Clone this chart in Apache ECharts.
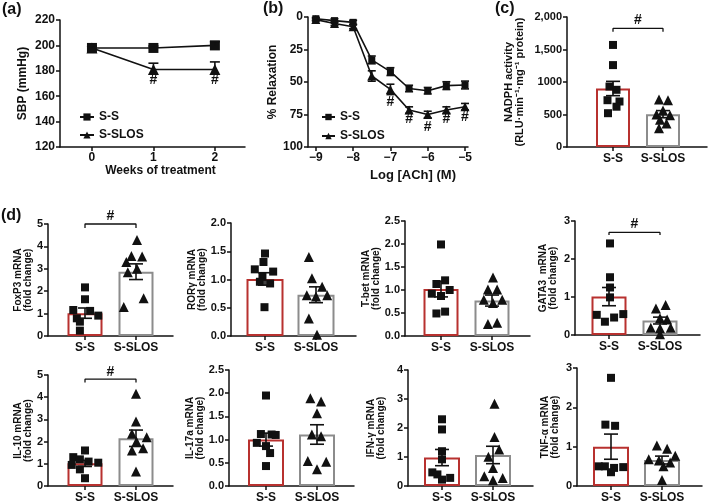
<!DOCTYPE html>
<html><head><meta charset="utf-8">
<script src="https://cdn.jsdelivr.net/npm/echarts@6/dist/echarts.min.js"></script>
<style>html,body{margin:0;padding:0;background:#fff}#c{width:709px;height:504px}</style>
</head><body><div id="c"></div><script>
// ---------- data ----------
const groups = ['S-S', 'S-SLOS'];
// (a) SBP
const weeks = [0, 1, 2];
const sbpSS = [198, 198, 200];
const sbpSSErr = [1.5, 1.5, 3];
const sbpSLOS = [198, 181, 181];
const sbpSLOSErr = [1.5, 5, 6];
const sbpHash = [[1, 173], [2, 173]];
// (b) relaxation
const logACh = [-9, -8.5, -8, -7.5, -7, -6.5, -6, -5.5, -5];
const logAChTicks = [-9, -8, -7, -6, -5];
const relaxSS = [1.3, 2.8, 4.1, 33, 42, 55, 56.7, 52.8, 52.3];
const relaxSSErr = [1, 1.5, 1.5, 3, 3, 2.5, 2.5, 3, 3];
const relaxSLOS = [2, 5, 7.5, 45.4, 55.7, 71.6, 75, 71.6, 69];
const relaxSLOSErr = [1, 1.5, 1.5, 4, 4, 2.5, 2.5, 2.5, 2.5];
const relaxHash = [[-7, 65.2], [-6.5, 78.6], [-6, 84.5], [-5.5, 78.6], [-5, 76.8]];
// (c) NADPH
const nadphTickLabels = ['0', '500', '1000', '1,500', '2,000'];
const nadphSS = [1570, 1260, 930, 880, 720, 700, 620, 520];
const nadphSSx = [0, 0, -0.07, 0.07, -0.11, 0.13, 0.07, -0.1];
const nadphSL = [730, 720, 560, 500, 490, 420, 360, 290];
const nadphSLx = [-0.08, 0.1, 0, -0.13, 0.14, -0.06, 0.07, -0.08];
const nadphMean = [900, 505];
const nadphSem = [110, 55];
const nadphSig = [1774, 1825, 1953];
// (d) mRNA
const foxp3SS = [2.17, 1.64, 1.16, 1.12, 0.91, 0.79, 0.64, 0.24];
const foxp3SSx = [0, 0, -0.23, 0.1, 0.26, -0.16, -0.1, -0.1];
const foxp3SL = [4.29, 3.57, 3.55, 3.3, 3.0, 2.85, 1.68, 1.3];
const foxp3SLx = [0.02, -0.09, 0.12, -0.19, 0.02, -0.16, 0.15, -0.24];
const foxp3Mean = [1.02, 2.87];
const foxp3Sem = [0.23, 0.35];
const foxp3Sig = [4.82, 5.0, 5.33];

const rorgSS = [1.46, 1.31, 1.18, 1.14, 1.05, 0.96, 0.93, 0.51];
const rorgSSx = [0, -0.03, -0.2, 0.16, -0.05, -0.1, 0.1, -0.01];
const rorgSL = [1.4, 1.02, 0.87, 0.72, 0.72, 0.7, 0.31, 0.02];
const rorgSLx = [-0.14, -0.08, 0.12, -0.18, 0.22, 0, -0.14, 0.02];
const rorgMean = [1.01, 0.73];
const rorgSem = [0.11, 0.14];

const tbetSS = [1.99, 1.21, 1.13, 1.0, 0.92, 0.87, 0.53, 0.49];
const tbetSSx = [0, 0.08, -0.09, 0.17, -0.18, 0, 0.08, -0.09];
const tbetSL = [1.27, 1.01, 1.01, 0.79, 0.79, 0.72, 0.26, 0.29];
const tbetSLx = [0.02, -0.08, 0.1, -0.16, 0.2, 0.02, -0.08, 0.1];
const tbetMean = [1.02, 0.77];
const tbetSem = [0.17, 0.12];

const gata3SS = [2.41, 1.52, 1.25, 0.99, 0.53, 0.46, 0.55, 0.35];
const gata3SSx = [0.02, 0.02, 0.02, 0.02, -0.24, 0.1, 0.28, -0.08];
const gata3SL = [0.79, 0.7, 0.44, 0.41, 0.19, 0.18, 0.19, 0.02];
const gata3SLx = [0.11, -0.08, 0, 0.14, -0.18, 0, 0.21, 0];
const gata3Mean = [1.01, 0.38];
const gata3Sem = [0.24, 0.09];
const gata3Sig = [2.63, 2.7, 2.92];

const il10SS = [1.6, 1.3, 1.2, 1.1, 1.05, 0.95, 0.75, 0.35];
const il10SSx = [0, -0.23, -0.1, 0.07, 0.26, -0.26, -0.1, 0];
const il10SL = [4.15, 2.9, 2.35, 2.2, 2.0, 1.7, 1.6, 0.65];
const il10SLx = [0, 0, -0.08, 0.21, 0.01, 0.14, -0.08, 0];
const il10Mean = [1.02, 2.15];
const il10Sem = [0.14, 0.37];
const il10Sig = [4.66, 4.81, 5.15];

const il17SS = [1.95, 1.12, 1.11, 1.1, 0.93, 0.86, 0.71, 0.43];
const il17SSx = [0, -0.1, 0.11, 0.19, -0.18, 0, 0.08, 0];
const il17SL = [1.89, 1.82, 1.57, 1.11, 1.07, 0.54, 0.52, 0.36];
const il17SLx = [-0.13, 0.08, 0, -0.1, 0.08, -0.18, 0.18, 0];
const il17Mean = [1.0, 1.11];
const il17Sem = [0.14, 0.21];

const ifngSS = [2.3, 1.95, 1.2, 0.92, 0.47, 0.4, 0.28, 0.22];
const ifngSSx = [0, 0, 0, 0, -0.19, -0.09, 0.16, 0];
const ifngSL = [2.84, 1.69, 1.26, 1.01, 0.62, 0.34, 0.28, 0.2];
const ifngSLx = [0.03, 0.03, 0.12, -0.09, 0, -0.17, 0.19, 0];
const ifngMean = [0.98, 1.07];
const ifngSem = [0.28, 0.3];

const tnfSS = [2.75, 1.56, 1.53, 0.5, 0.5, 0.48, 0.46, 0.35];
const tnfSSx = [0, -0.11, 0.08, -0.12, -0.24, 0.24, 0.06, 0];
const tnfSL = [1.03, 0.95, 0.77, 0.68, 0.65, 0.6, 0.5, 0.15];
const tnfSLx = [-0.1, 0.1, 0.26, -0.26, -0.06, 0.16, 0.03, 0];
const tnfMean = [1.0, 0.66];
const tnfSem = [0.32, 0.1];

// ---------- styling / build ----------
const BLACK = '#111111', RED = '#b8312f', GRAY = '#8c8c8c';
const FONT = '"Liberation Sans", Arial, Helvetica, sans-serif';
const grids = [], xAxes = [], yAxes = [], series = [];

function lab(size) { return { color: BLACK, fontFamily: FONT, fontWeight: 'bold', fontSize: size }; }
function axisCommon(labelSize) {
  return {
    axisLine: { show: true, onZero: false, lineStyle: { color: BLACK, width: 1.5 } },
    axisTick: { show: true, length: 4, lineStyle: { color: BLACK, width: 1.5 } },
    splitLine: { show: false },
    axisLabel: Object.assign({ margin: 5 }, lab(labelSize))
  };
}
function errSeries(gi, data, cap, lowCap) {
  return {
    type: 'custom', xAxisIndex: gi, yAxisIndex: gi, data: data, z: 5, silent: true, clip: false,
    renderItem: function (params, api) {
      const x = api.value(0), lo = api.value(1), hi = api.value(2);
      const a = api.coord([x, lo]), b = api.coord([x, hi]);
      const st = { stroke: BLACK, lineWidth: 1.6 };
      const ch = [
        { type: 'line', shape: { x1: a[0], y1: a[1], x2: b[0], y2: b[1] }, style: st },
        { type: 'line', shape: { x1: b[0] - cap, y1: b[1], x2: b[0] + cap, y2: b[1] }, style: st }
      ];
      if (lowCap) ch.push({ type: 'line', shape: { x1: a[0] - cap, y1: a[1], x2: a[0] + cap, y2: a[1] }, style: st });
      return { type: 'group', children: ch };
    }
  };
}
function hashSeries(gi, pts) {
  return {
    type: 'scatter', xAxisIndex: gi, yAxisIndex: gi, data: pts, symbolSize: 1, clip: false, silent: true, z: 6,
    itemStyle: { color: 'rgba(0,0,0,0)', opacity: 1 },
    label: Object.assign({ show: true, position: 'inside', formatter: '#', opacity: 1 }, lab(14))
  };
}
function bracketSeries(gi, sig) {
  series.push({
    type: 'line', xAxisIndex: gi, yAxisIndex: gi, clip: false, silent: true, z: 6, symbol: 'none',
    data: [[1, sig[0]], [1, sig[1]], [2, sig[1]], [2, sig[0]]],
    lineStyle: { color: BLACK, width: 1.3 }
  });
  series.push(hashSeries(gi, [[1.5, sig[2]]]));
}

// (a)
grids.push({ left: 60, top: 20, width: 185, height: 127 });
xAxes.push(Object.assign(axisCommon(12), {
  type: 'value', gridIndex: 0, min: -0.52, max: 2.49,
  name: 'Weeks of treatment', nameLocation: 'middle', nameGap: 18,
  nameTextStyle: Object.assign({ padding: [0, 0, 0, 16] }, lab(12))
}));
xAxes[0].axisLabel.customValues = weeks; xAxes[0].axisTick.customValues = weeks;
yAxes.push(Object.assign(axisCommon(12), {
  type: 'value', gridIndex: 0, min: 120, max: 220, interval: 20,
  name: 'SBP (mmHg)', nameLocation: 'middle', nameRotate: 90, nameGap: 31, nameTextStyle: lab(12)
}));
series.push({ name: 'S-S', type: 'line', xAxisIndex: 0, yAxisIndex: 0, data: weeks.map((w, i) => [w, sbpSS[i]]),
  symbol: 'rect', symbolSize: 10, itemStyle: { color: BLACK, opacity: 1 }, lineStyle: { color: BLACK, width: 1.6 }, z: 3 });
series.push({ name: 'S-SLOS', type: 'line', xAxisIndex: 0, yAxisIndex: 0, data: weeks.map((w, i) => [w, sbpSLOS[i]]),
  symbol: 'triangle', symbolSize: 11, itemStyle: { color: BLACK, opacity: 1 }, lineStyle: { color: BLACK, width: 1.6 }, z: 3 });
series.push(errSeries(0, weeks.map((w, i) => [w, sbpSS[i], sbpSS[i] + sbpSSErr[i]]), 5, false));
series.push(errSeries(0, weeks.map((w, i) => [w, sbpSLOS[i], sbpSLOS[i] + sbpSLOSErr[i]]), 5, false));
series.push(hashSeries(0, sbpHash));

// (b)
grids.push({ left: 308, top: 17, width: 160, height: 130 });
xAxes.push(Object.assign(axisCommon(12), {
  type: 'value', gridIndex: 1, min: -9.21, max: -4.92,
  name: 'Log [ACh] (M)', nameLocation: 'middle', nameGap: 22,
  nameTextStyle: Object.assign({ padding: [0, 0, 0, 50] }, lab(13))
}));
xAxes[1].axisLabel.customValues = logAChTicks; xAxes[1].axisTick.customValues = logAChTicks;
xAxes[1].axisLabel.formatter = v => '\u2212' + Math.abs(v);
yAxes.push(Object.assign(axisCommon(12), {
  type: 'value', gridIndex: 1, min: 0, max: 100, interval: 25, inverse: true,
  name: '% Relaxation', nameLocation: 'middle', nameRotate: 90, nameGap: 29, nameTextStyle: lab(12)
}));
series.push({ name: 'S-S', type: 'line', xAxisIndex: 1, yAxisIndex: 1, data: logACh.map((x, i) => [x, relaxSS[i]]),
  symbol: 'rect', symbolSize: 7, itemStyle: { color: BLACK, opacity: 1 }, lineStyle: { color: BLACK, width: 1.6 }, z: 3 });
series.push({ name: 'S-SLOS', type: 'line', xAxisIndex: 1, yAxisIndex: 1, data: logACh.map((x, i) => [x, relaxSLOS[i]]),
  symbol: 'triangle', symbolSize: 9, itemStyle: { color: BLACK, opacity: 1 }, lineStyle: { color: BLACK, width: 1.6 }, z: 3 });
series.push(errSeries(1, logACh.map((x, i) => [x, relaxSS[i] - relaxSSErr[i], relaxSS[i] + relaxSSErr[i]]), 4, true));
series.push(errSeries(1, logACh.map((x, i) => [x, relaxSLOS[i] - relaxSLOSErr[i], relaxSLOS[i] + relaxSLOSErr[i]]), 4, true));
series.push(hashSeries(1, relaxHash));

// bar/dot panels
function barPanel(box, yCfg, name, nameGap, ss, ssx, sl, slx, mean, sem, sig, barW, unitPx, x1Px) {
  const gi = grids.length;
  grids.push({ left: box[0], top: box[1], width: box[2], height: box[3] });
  const xmin = 1 - x1Px / unitPx, xmax = xmin + box[2] / unitPx;
  const xa = Object.assign(axisCommon(12), { type: 'value', gridIndex: gi, min: xmin, max: xmax });
  xa.axisLabel.customValues = [1, 2]; xa.axisTick.customValues = [1, 2];
  xa.axisLabel.formatter = v => groups[Math.round(v) - 1];
  xa.axisLabel.margin = 6;
  xAxes.push(xa);
  const ya = Object.assign(axisCommon(11), {
    type: 'value', gridIndex: gi, min: yCfg.min, max: yCfg.max, interval: yCfg.interval,
    name: name, nameLocation: 'middle', nameRotate: 90, nameGap: nameGap,
    nameTextStyle: Object.assign({ lineHeight: yCfg.nameLH || 10 }, lab(yCfg.nameSize || 10))
  });
  if (yCfg.formatter) ya.axisLabel.formatter = yCfg.formatter;
  yAxes.push(ya);
  series.push({
    type: 'bar', xAxisIndex: gi, yAxisIndex: gi, barWidth: barW, silent: true, z: 2,
    data: [
      { value: [1, mean[0]], itemStyle: { color: '#fff', borderColor: RED, borderWidth: 2 } },
      { value: [2, mean[1]], itemStyle: { color: '#fff', borderColor: GRAY, borderWidth: 2 } }
    ]
  });
  series.push({ type: 'scatter', xAxisIndex: gi, yAxisIndex: gi, symbol: 'rect', symbolSize: 8, silent: true, z: 4,
    itemStyle: { color: BLACK, opacity: 1 }, data: ss.map((v, i) => [1 + ssx[i], v]) });
  series.push({ type: 'scatter', xAxisIndex: gi, yAxisIndex: gi, symbol: 'triangle', symbolSize: 10, silent: true, z: 4,
    itemStyle: { color: BLACK, opacity: 1 }, data: sl.map((v, i) => [2 + slx[i], v]) });
  series.push(errSeries(gi, [[1, mean[0] - sem[0], mean[0] + sem[0]], [2, mean[1] - sem[1], mean[1] + sem[1]]], 7, true));
  if (sig) bracketSeries(gi, sig);
}

const dec1 = v => v.toFixed(1);
// (c)
barPanel([567, 17, 140, 130], { min: 0, max: 2000, interval: 500, formatter: (v) => nadphTickLabels[Math.round(v / 500)], nameSize: 11, nameLH: 11 },
  'NADPH activity\n(RLU\u00b7min\u207b\u00b9\u00b7mg\u207b\u00b9 protein)', 42,
  nadphSS, nadphSSx, nadphSL, nadphSLx, nadphMean, nadphSem, nadphSig, 34, 50, 46);
// (d) row 1
barPanel([48, 224, 125, 112], { min: 0, max: 5, interval: 1 }, 'FoxP3 mRNA\n(fold change)', 11,
  foxp3SS, foxp3SSx, foxp3SL, foxp3SLx, foxp3Mean, foxp3Sem, foxp3Sig, 35, 51, 37);
barPanel([231, 223, 125, 113], { min: 0, max: 2, interval: 0.5, formatter: dec1 }, 'ROR\u03b3 mRNA\n(fold change)', 23,
  rorgSS, rorgSSx, rorgSL, rorgSLx, rorgMean, rorgSem, null, 37, 51, 34);
barPanel([405, 221, 125, 115], { min: 0, max: 2.5, interval: 0.5, formatter: dec1 }, 'T-bet mRNA\n(fold change)', 23,
  tbetSS, tbetSSx, tbetSL, tbetSLx, tbetMean, tbetSem, null, 35, 51, 36);
barPanel([575, 221, 125, 114], { min: 0, max: 3, interval: 1 }, 'GATA3  mRNA\n(fold change)', 17,
  gata3SS, gata3SSx, gata3SL, gata3SLx, gata3Mean, gata3Sem, gata3Sig, 35, 51, 34);
// (d) row 2
barPanel([48, 375, 125, 112], { min: 0, max: 5, interval: 1 }, 'IL-10 mRNA\n(fold change)', 14,
  il10SS, il10SSx, il10SL, il10SLx, il10Mean, il10Sem, il10Sig, 35, 51, 37);
barPanel([229, 370, 125, 117], { min: 0, max: 2.5, interval: 0.5, formatter: dec1 }, 'IL-17a mRNA\n(fold change)', 22,
  il17SS, il17SSx, il17SL, il17SLx, il17Mean, il17Sem, null, 36, 51, 37);
barPanel([408, 370, 125, 118], { min: 0, max: 4, interval: 1 }, 'IFN-\u03b3 mRNA\n(fold change)', 22,
  ifngSS, ifngSSx, ifngSL, ifngSLx, ifngMean, ifngSem, null, 36, 51, 34);
barPanel([577, 368, 125, 120], { min: 0, max: 3, interval: 1 }, 'TNF-\u03b1 mRNA\n(fold change)', 17,
  tnfSS, tnfSSx, tnfSL, tnfSLx, tnfMean, tnfSem, null, 36, 51, 34);

const titleStyle = Object.assign({}, lab(16));
const option = {
  animation: false,
  backgroundColor: '#fff',
  textStyle: { fontFamily: FONT },
  title: [
    { text: '(a)', left: 2, top: 2, padding: 0, textStyle: titleStyle },
    { text: '(b)', left: 263, top: 1, padding: 0, textStyle: titleStyle },
    { text: '(c)', left: 495, top: 1, padding: 0, textStyle: titleStyle },
    { text: '(d)', left: 1, top: 208, padding: 0, textStyle: titleStyle }
  ],
  legend: [
    { data: ['S-S', 'S-SLOS'], left: 79, top: 111, orient: 'vertical', itemWidth: 14, itemHeight: 9, itemGap: 6,
      padding: 0, textStyle: lab(12), selectedMode: false },
    { data: ['S-S', 'S-SLOS'], left: 321, top: 111, orient: 'vertical', itemWidth: 13, itemHeight: 8, itemGap: 7,
      padding: 0, textStyle: lab(12), selectedMode: false }
  ],
  grid: grids, xAxis: xAxes, yAxis: yAxes, series: series
};
const chart = echarts.init(document.getElementById('c'), null, { renderer: 'canvas' });
chart.setOption(option);
</script></body></html>
